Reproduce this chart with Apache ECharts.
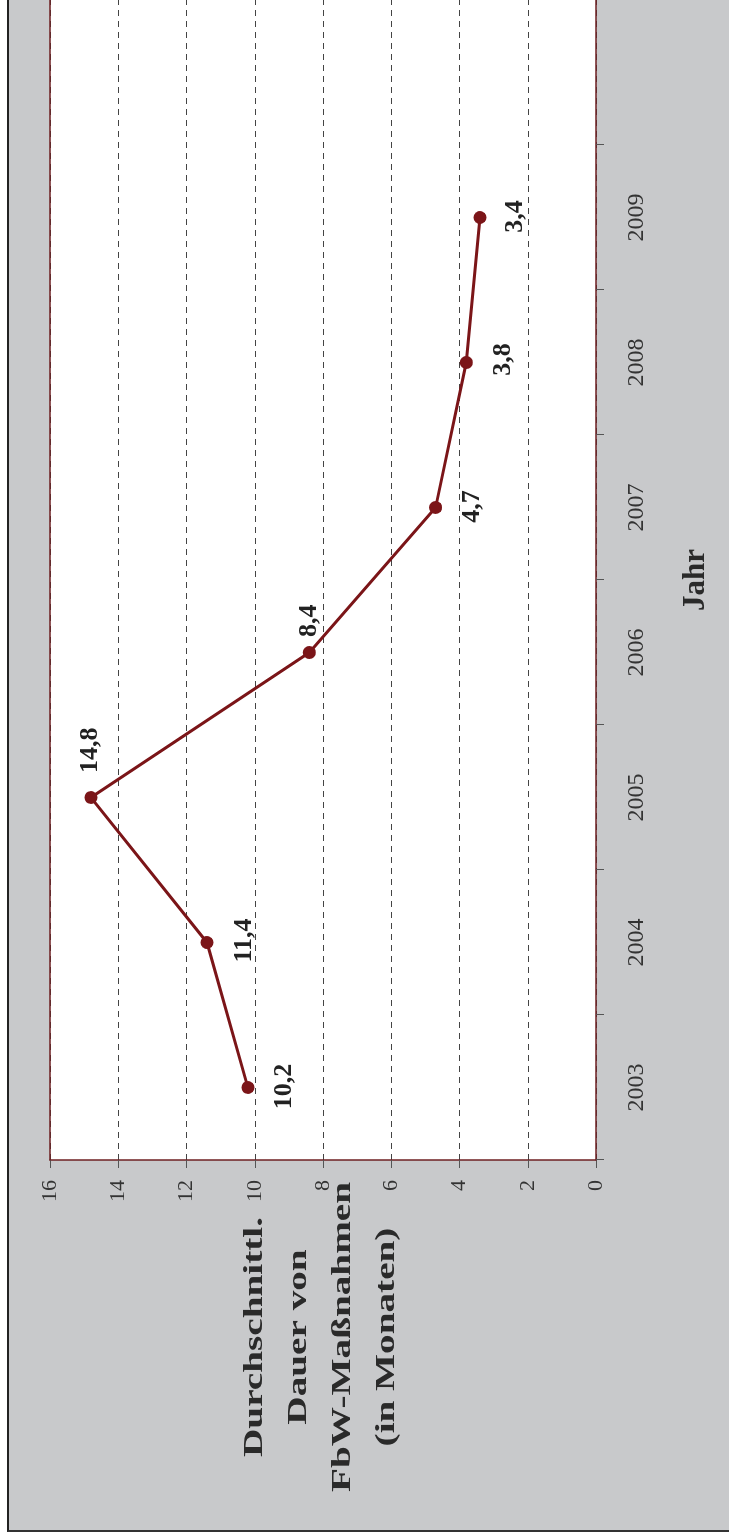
<!DOCTYPE html>
<html>
<head>
<meta charset="utf-8">
<script src="https://cdn.jsdelivr.net/npm/echarts@6/dist/echarts.min.js"></script>
<style>
  html, body { margin: 0; padding: 0; background: #fff; width: 729px; height: 1539px; overflow: hidden; }
  #bg {
    position: absolute; left: 7px; top: -4px; width: 740px; height: 1534px;
    background: #c8c9cb; border-left: 2px solid #222; border-bottom: 2px solid #333;
  }
  #chart {
    position: absolute; left: 0; top: 0; width: 1539px; height: 729px;
    transform-origin: 0 0; transform: translate(0, 1539px) rotate(-90deg);
  }
</style>
</head>
<body>
<div id="bg"></div>
<div id="chart"></div>
<script>
// Jahre (letzter Slot bleibt leer, wie im Original)
var years = ['2003', '2004', '2005', '2006', '2007', '2008', '2009', ''];
// durchschnittl. Dauer in Monaten
var dauer = [10.2, 11.4, 14.8, 8.4, 4.7, 3.8, 3.4];
var valueTicks = [0, 16, 2]; // min, max, interval

// Lage der Beschriftungen je Punkt
var labelSpots = [
  { position: 'bottom', distance: 17, offset: [1, 0] },
  { position: 'bottom', distance: 18, offset: [2, 0] },
  { position: 'right', distance: 18, offset: [0, -1] },
  { position: 'right', distance: 9, offset: [0, 0] },
  { position: 'bottom', distance: 17, offset: [1, 0] },
  { position: 'bottom', distance: 17, offset: [3, 0] },
  { position: 'bottom', distance: 16, offset: [1, 0] }
];

var serif = "'Liberation Serif', 'DejaVu Serif', serif";
var maroon = '#7b1518';
var axisRed = '#6e1f22';

var myChart = echarts.init(document.getElementById('chart'));

var opt = {
  backgroundColor: 'transparent',
  animation: false,
  grid: {
    left: 379,
    top: 50,
    right: 0,
    bottom: 133,
    show: true,
    backgroundColor: '#fff',
    borderWidth: 0
  },
  graphic: [
    {
      type: 'text',
      x: 202,
      y: 321,
      scaleX: 1.4,
      style: {
        text: 'Durchschnittl.\nDauer von\nFbW-Maßnahmen\n(in Monaten)',
        fill: '#2a2a2a',
        fontFamily: serif,
        fontWeight: 'bold',
        fontSize: 28,
        lineHeight: 44,
        align: 'center',
        verticalAlign: 'middle'
      }
    }
  ],
  xAxis: [
    {
      type: 'category',
      data: years,
      boundaryGap: true,
      z: 3,
      name: 'Jahr',
      nameLocation: 'middle',
      nameGap: 84,
      nameTextStyle: { fontFamily: serif, fontWeight: 'bold', fontSize: 31, color: '#2a2a2a' },
      axisLine: { show: true, lineStyle: { color: axisRed, width: 1.5 } },
      axisTick: { show: true, interval: 0, length: 8, lineStyle: { color: '#555' } },
      axisLabel: { interval: 0, margin: 29, fontFamily: serif, fontSize: 24, color: '#333' },
      splitLine: { show: false }
    },
    {
      type: 'category',
      data: years,
      position: 'top',
      z: 5,
      axisLine: { show: true, lineStyle: { color: axisRed, width: 1.5 } },
      axisTick: { show: false },
      axisLabel: { show: false },
      splitLine: { show: false }
    }
  ],
  yAxis: {
    type: 'value',
    min: valueTicks[0],
    max: valueTicks[1],
    interval: valueTicks[2],
    z: 2,
    axisLine: { show: true, lineStyle: { color: axisRed, width: 1.5 } },
    axisTick: { show: true, length: 8, lineStyle: { color: '#555' } },
    axisLabel: { margin: 20, fontFamily: serif, fontSize: 22, color: '#333' },
    splitLine: { show: true, lineStyle: { color: '#444', width: 1, type: [6, 5] } }
  },
  series: [
    {
      type: 'line',
      xAxisIndex: 0,
      data: dauer.map(function (v, i) {
        return { value: v, label: labelSpots[i] };
      }),
      symbol: 'circle',
      symbolSize: 13,
      z: 10,
      lineStyle: { color: maroon, width: 3 },
      itemStyle: { color: maroon },
      label: {
        show: true,
        fontFamily: serif,
        fontWeight: 'bold',
        fontSize: 26,
        color: '#222',
        formatter: function (p) {
          return String(p.value).replace('.', ',');
        }
      }
    }
  ]
};

myChart.setOption(opt);
</script>
</body>
</html>
